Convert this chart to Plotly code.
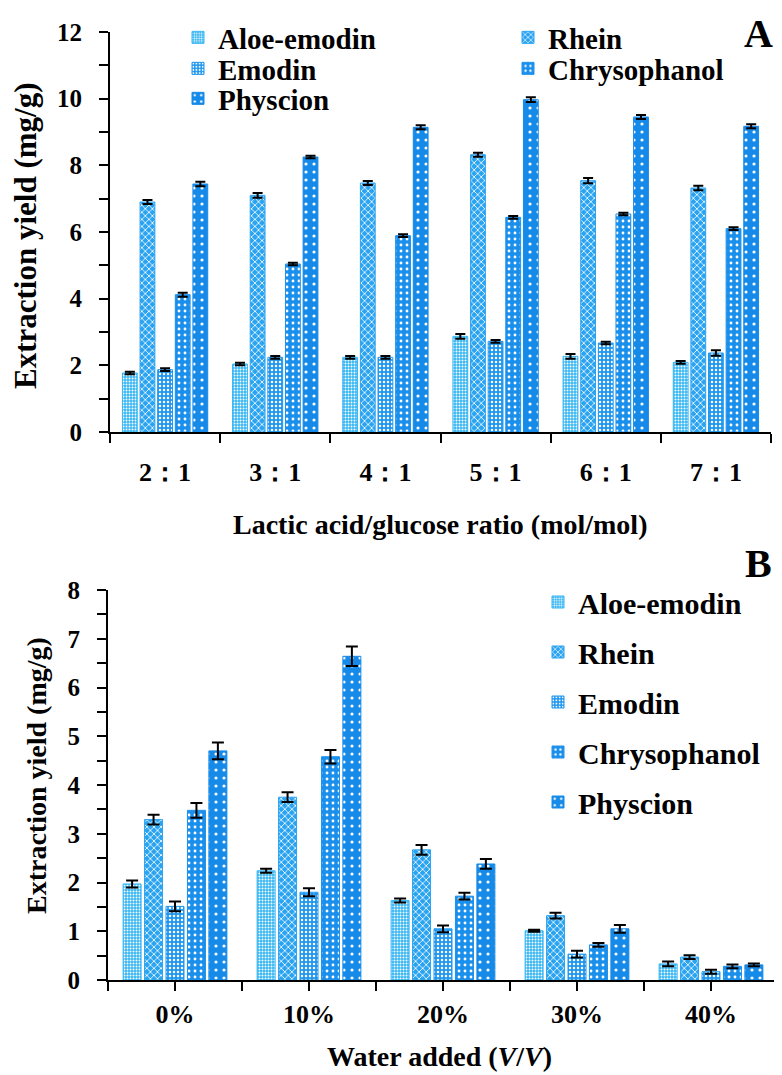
import plotly.graph_objects as go

# panel A: lactic acid / glucose ratio
ratios = ["2：1", "3：1", "4：1", "5：1", "6：1", "7：1"]
a_aloe = [1.77, 2.04, 2.24, 2.87, 2.27, 2.09]
a_rhein = [6.90, 7.10, 7.47, 8.32, 7.54, 7.32]
a_emodin = [1.87, 2.24, 2.24, 2.72, 2.67, 2.37]
a_chryso = [4.12, 5.04, 5.89, 6.44, 6.54, 6.10]
a_physc = [7.44, 8.25, 9.14, 9.97, 9.45, 9.17]
a_aloe_err = [0.04, 0.04, 0.04, 0.07, 0.07, 0.04]
a_rhein_err = [0.06, 0.07, 0.06, 0.06, 0.08, 0.07]
a_emodin_err = [0.04, 0.04, 0.04, 0.04, 0.04, 0.08]
a_chryso_err = [0.06, 0.04, 0.04, 0.04, 0.04, 0.04]
a_physc_err = [0.07, 0.04, 0.06, 0.07, 0.06, 0.06]

# panel B: water added
water = ["0%", "10%", "20%", "30%", "40%"]
b_aloe = [1.97, 2.24, 1.63, 1.01, 0.33]
b_rhein = [3.29, 3.75, 2.67, 1.32, 0.47]
b_emodin = [1.51, 1.80, 1.05, 0.53, 0.17]
b_chryso = [3.48, 4.58, 1.72, 0.72, 0.28]
b_physc = [4.70, 6.64, 2.38, 1.05, 0.31]
b_aloe_err = [0.07, 0.04, 0.04, 0.02, 0.05]
b_rhein_err = [0.10, 0.10, 0.10, 0.06, 0.04]
b_emodin_err = [0.10, 0.08, 0.07, 0.07, 0.04]
b_chryso_err = [0.15, 0.14, 0.07, 0.04, 0.04]
b_physc_err = [0.17, 0.20, 0.10, 0.08, 0.03]

names = ["Aloe-emodin", "Rhein", "Emodin", "Chrysophanol", "Physcion"]
colors = ["#36b6f4", "#2aa3f1", "#1f97ee", "#1a90ec", "#168ae8"]
patterns = [
    dict(shape=".", size=3, solidity=0.35),
    dict(shape="x", size=5, solidity=0.3),
    dict(shape=".", size=4, solidity=0.3),
    dict(shape=".", size=6, solidity=0.18),
    dict(shape=".", size=8, solidity=0.12),
]

FONT = "Liberation Serif"
W, H = 782, 1075


def px(x):
    return x / W


def py(y):
    return 1 - y / H


fig = go.Figure()

a_vals = [a_aloe, a_rhein, a_emodin, a_chryso, a_physc]
a_errs = [a_aloe_err, a_rhein_err, a_emodin_err, a_chryso_err, a_physc_err]
b_vals = [b_aloe, b_rhein, b_emodin, b_chryso, b_physc]
b_errs = [b_aloe_err, b_rhein_err, b_emodin_err, b_chryso_err, b_physc_err]

# panel A legend: two columns, tight rows -> one small legend per entry
a_legend = ["legend", "legend3", "legend4", "legend5", "legend6"]
a_legend_pos = [(170, 4), (500, 4), (170, 35), (500, 35), (170, 65)]

for i, name in enumerate(names):
    pat = dict(patterns[i], fillmode="replace", bgcolor=colors[i], fgcolor="white")
    fig.add_trace(go.Bar(
        x=list(range(len(ratios))), y=a_vals[i], name=name, showlegend=True,
        marker=dict(color=colors[i], line=dict(color=colors[i], width=1), pattern=pat),
        error_y=dict(type="data", array=a_errs[i], color="black", thickness=2, width=5),
        xaxis="x", yaxis="y", legend=a_legend[i],
    ))
for i, name in enumerate(names):
    pat = dict(patterns[i], fillmode="replace", bgcolor=colors[i], fgcolor="white")
    fig.add_trace(go.Bar(
        x=list(range(len(water))), y=b_vals[i], name=name, showlegend=True,
        marker=dict(color=colors[i], line=dict(color=colors[i], width=1), pattern=pat),
        error_y=dict(type="data", array=b_errs[i], color="black", thickness=2, width=6),
        xaxis="x2", yaxis="y2", legend="legend2", legendgroup="b" + str(i),
    ))

axis_common = dict(showline=True, linecolor="black", linewidth=2, showgrid=False,
                   zeroline=False, automargin=False,
                   tickfont=dict(family=FONT, size=25, color="black", weight="bold"))
leg_a_font = dict(family=FONT, size=29, color="black", weight="bold")

fig.update_layout(
    width=W, height=H,
    margin=dict(l=0, r=0, t=0, b=0),
    template="none",
    showlegend=True,
    paper_bgcolor="white", plot_bgcolor="white",
    font=dict(family=FONT, color="black", weight="bold"),
    barmode="group", bargap=0.2, bargroupgap=0.16,
    xaxis=dict(axis_common, domain=[px(102), px(763)], anchor="y", range=[-0.5, 5.5],
               tickvals=list(range(len(ratios))), ticktext=ratios, ticks="",
               ticklabelstandoff=16,
               tickfont=dict(family=FONT, size=26, color="black", weight="bold"),
               minor=dict(tickvals=[k - 0.5 for k in range(len(ratios) + 1)],
                          ticks="outside", ticklen=9, tickwidth=2, tickcolor="black")),
    yaxis=dict(axis_common, domain=[py(424), py(24)], anchor="x", range=[0, 12],
               dtick=2, ticks="outside", ticklen=9, tickwidth=2, tickcolor="black",
               ticklabelstandoff=12,
               minor=dict(dtick=1, ticks="outside", ticklen=9, tickwidth=2, tickcolor="black")),
    xaxis2=dict(axis_common, domain=[px(100), px(770)], anchor="y2", range=[-0.5, 4.5],
                tickvals=list(range(len(water))), ticktext=water,
                ticks="outside", ticklen=9, tickwidth=2, tickcolor="black",
                ticklabelstandoff=1,
                tickfont=dict(family=FONT, size=26, color="black", weight="bold"),
                minor=dict(tickvals=[k - 0.5 for k in range(len(water) + 1)],
                           ticks="outside", ticklen=9, tickwidth=2, tickcolor="black")),
    yaxis2=dict(axis_common, domain=[py(972), py(582)], anchor="x2", range=[0, 8],
                dtick=1, ticks="outside", ticklen=9, tickwidth=2, tickcolor="black",
                ticklabelstandoff=12,
                minor=dict(dtick=0.5, ticks="outside", ticklen=9, tickwidth=2, tickcolor="black")),
    legend2=dict(orientation="v", x=px(530), y=py(568), xanchor="left", yanchor="top",
                 tracegroupgap=8, bgcolor="rgba(0,0,0,0)", visible=True,
                 font=dict(family=FONT, size=30, color="black", weight="bold")),
)
for key, (lx, ly) in zip(a_legend, a_legend_pos):
    fig.update_layout({key: dict(orientation="v", x=px(lx), y=py(ly), xanchor="left",
                                 yanchor="top", bgcolor="rgba(0,0,0,0)", visible=True,
                                 font=leg_a_font)})

title_font = dict(family=FONT, color="black", weight="bold")


def label(text, x, y, size, angle=0):
    fig.add_annotation(text=text, x=px(x), y=py(y), xref="paper", yref="paper",
                       xanchor="center", yanchor="middle", textangle=angle,
                       showarrow=False, font=dict(title_font, size=size))


label("Extraction yield (mg/g)", 18, 228, 31, -90)
label("Lactic acid/glucose ratio (mol/mol)", 432, 516, 28)
label("A", 750, 25, 40)
label("Extraction yield (mg/g)", 28, 768, 28, -90)
label("Water added (<i>V</i>/<i>V</i>)", 432, 1048, 28)
label("B", 750, 555, 40)

fig.write_html("out.html")
